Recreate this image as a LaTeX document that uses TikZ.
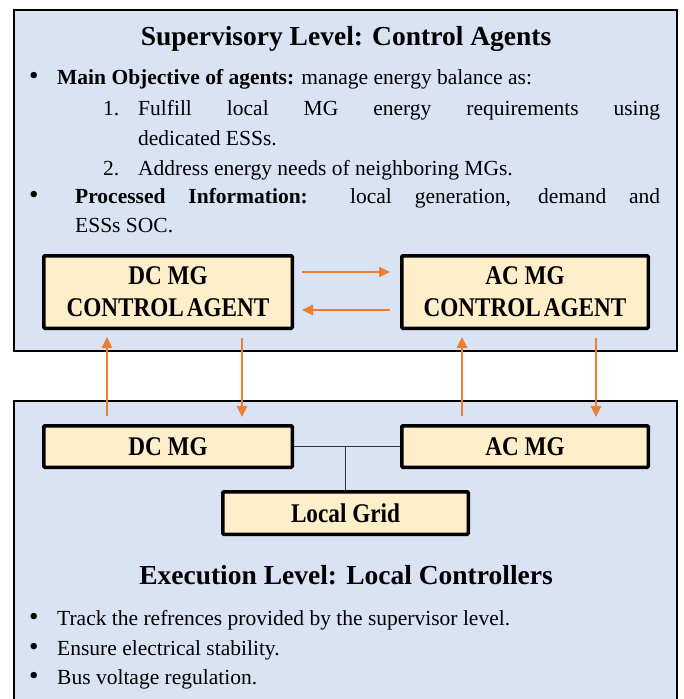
\documentclass[tikz,border=0pt]{standalone}
\usepackage{fontspec}
\setmainfont{Liberation Serif}
\newfontfamily\boxfont[FakeStretch=0.86]{Liberation Serif}
\usetikzlibrary{arrows.meta}
\definecolor{panelblue}{HTML}{DAE3F3}
\definecolor{boxtan}{HTML}{FEEECA}
\definecolor{arroworange}{HTML}{ED7D31}
\newcommand{\bul}{{\fontsize{27}{27}\selectfont\textbullet}}
\tikzset{
  panel/.style={draw=black, line width=2pt, fill=panelblue},
  mgbox/.style={draw=black, line width=3.5pt, fill=boxtan, rounded corners=1pt, font=\boxfont\bfseries\fontsize{27}{32}\selectfont, align=center, inner sep=0pt},
  txt/.style={anchor=base west, inner sep=0pt, font=\fontsize{21.5}{24}\selectfont},
  ttl/.style={anchor=base, inner sep=0pt, font=\bfseries\fontsize{27.5}{30}\selectfont},
  flow/.style={draw=arroworange, line width=2.5pt, -{Triangle[width=10pt,length=11pt]}},
  wire/.style={draw=black!80, line width=0.8pt}
}
\begin{document}
\begin{tikzpicture}[x=1pt,y=-1pt]
\useasboundingbox (0,0) rectangle (683,699);
% panels
\draw[panel] (14,10) rectangle (677,351);
\draw[panel] (14,401) rectangle (677,720);
% supervisory text
\node[txt] (t1) at (346,45) [ttl] {Supervisory Level: Control Agents};
\node[txt] (b1) at (29,84) {\bul};
\node[txt] (obj) at (57,84) {\textbf{Main Objective of agents:} manage energy balance as:};
\node[txt] (n1) at (103,115.5) {1.};
\node[txt] (l1) at (138,115.5) {\makebox[522pt][s]{Fulfill local MG energy requirements using}};
\node[txt] (l2) at (138,145) {dedicated ESSs.};
\node[txt] (n2) at (103,175) {2.};
\node[txt] (l3) at (138,175) {Address energy needs of neighboring MGs.};
\node[txt] (b2) at (29,203) {\bul};
\node[txt] (p1) at (75,203) {\makebox[585pt][s]{\textbf{Processed Information:} local generation, demand and}};
\node[txt] (p2) at (75,232) {ESSs SOC.};
% agent boxes
\node[mgbox, minimum width=248.5pt, minimum height=72.5pt] (dca) at (168,292) {\raisebox{-2pt}{DC MG}\\\raisebox{-2pt}{CONTROL\hspace{3pt}AGENT}};
\node[mgbox, minimum width=246.5pt, minimum height=72.5pt] (aca) at (525,292) {\raisebox{-2pt}{AC MG}\\\raisebox{-2pt}{CONTROL\hspace{3pt}AGENT}};
% execution boxes
\node[mgbox, minimum width=248.5pt, minimum height=41.5pt] (dcm) at (168,446.5) {DC MG};
\node[mgbox, minimum width=246.5pt, minimum height=41.5pt] (acm) at (525,446.5) {AC MG};
\node[mgbox, minimum width=245.5pt, minimum height=42.5pt] (grid) at (345.5,513) {Local Grid};
% wires
\coordinate (jn) at (grid.north |- dcm.east);
\draw[wire] (dcm.east) -- (acm.west);
\draw[wire] (jn) -- (grid.north);
% horizontal arrows
\draw[flow] ([yshift=20pt,xshift=8pt]dca.east) -- ([yshift=20pt,xshift=-10pt]aca.west);
\draw[flow] ([yshift=-18pt,xshift=-10pt]aca.west) -- ([yshift=-18pt,xshift=8pt]dca.east);
% vertical arrows
\draw[flow] ([xshift=-61pt,yshift=8pt]dcm.north) -- ([xshift=-61pt,yshift=-7pt]dca.south);
\draw[flow] ([xshift=74pt,yshift=-8pt]dca.south) -- ([xshift=74pt,yshift=7pt]dcm.north);
\draw[flow] ([xshift=-63pt,yshift=8pt]acm.north) -- ([xshift=-63pt,yshift=-7pt]aca.south);
\draw[flow] ([xshift=71pt,yshift=-8pt]aca.south) -- ([xshift=71pt,yshift=7pt]acm.north);
% execution text
\node[txt] (t2) at (346,584) [ttl] {Execution Level: Local Controllers};
\node[txt] (c1) at (29,625) {\bul};
\node[txt] (e1) at (57,625) {Track the refrences provided by the supervisor level.};
\node[txt] (c2) at (29,655) {\bul};
\node[txt] (e2) at (57,655) {Ensure electrical stability.};
\node[txt] (c3) at (29,684) {\bul};
\node[txt] (e3) at (57,684) {Bus voltage regulation.};
\end{tikzpicture}
\end{document}
